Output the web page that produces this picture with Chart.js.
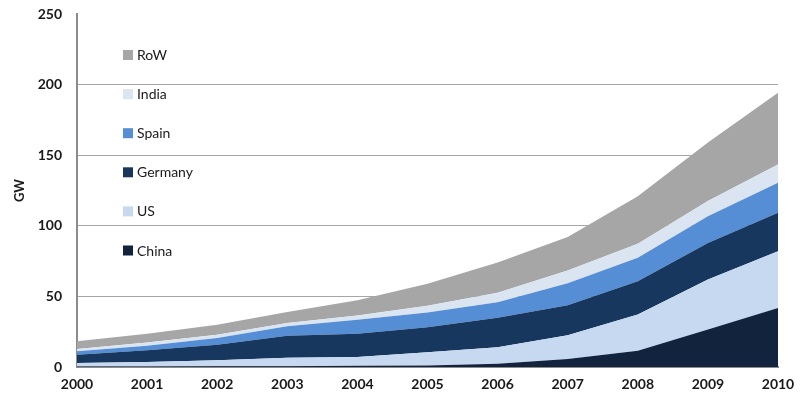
<!DOCTYPE html>
<html>
<head>
<meta charset="utf-8">
<script src="https://cdn.jsdelivr.net/npm/chart.js@4/dist/chart.umd.min.js"></script>
<style>
html,body{margin:0;padding:0;background:#fff;}
#wrap{width:801px;height:416px;position:relative;}
</style>
</head>
<body>
<div id="wrap"><canvas id="c" width="801" height="416"></canvas></div>
<script>
const years = ['2000','2001','2002','2003','2004','2005','2006','2007','2008','2009','2010'];
const china   = [0.3, 0.4, 0.5, 0.6, 0.8, 1.0, 2.3, 5.7, 11.5, 26.5, 41.8];
const us      = [2.5, 3.1, 4.2, 6.0, 6.3, 9.4, 11.7, 16.8, 25.6, 35.4, 40.2];
const germany = [5.9, 8.3, 11.1, 15.6, 16.5, 17.8, 20.8, 21.3, 23.6, 26.0, 27.2];
const spain   = [2.4, 3.3, 4.8, 6.6, 9.9, 10.4, 11.0, 15.5, 16.6, 18.9, 21.3];
const india   = [1.7, 2.3, 2.3, 2.4, 2.9, 4.8, 6.7, 9.1, 10.0, 10.7, 13.0];
const row     = [5.4, 6.2, 7.1, 7.8, 10.8, 15.6, 21.5, 23.6, 33.7, 41.5, 50.8];
const yTicks  = [0, 50, 100, 150, 200, 250];

const seriesNames  = ['China','US','Germany','Spain','India','RoW'];
const seriesData   = [china, us, germany, spain, india, row];
const seriesColors = ['#11233D','#C6D9F0','#17375E','#558ED5','#DBE5F1','#A6A6A6'];

const datasets = seriesNames.map((n,i)=>({
  label: n,
  data: seriesData[i],
  backgroundColor: seriesColors[i],
  borderColor: seriesColors[i],
  borderWidth: 0,
  pointRadius: 0,
  tension: 0,
  fill: i === 0 ? 'origin' : '-1'
}));

const legendPlugin = {
  id: 'insideLegend',
  afterDraw(chart){
    const ctx = chart.ctx;
    ctx.save();
    ctx.font = '14px Lato';
    ctx.textBaseline = 'middle';
    const ds = chart.data.datasets.slice().reverse();
    ds.forEach((d,i)=>{
      const cy = 55 + i*39.1;
      ctx.fillStyle = d.backgroundColor;
      ctx.fillRect(123, cy-5, 10, 10);
      ctx.fillStyle = '#1a1a1a';
      ctx.fillText(d.label, 137, cy+0.5);
    });
    ctx.restore();
  }
};

new Chart(document.getElementById('c'), {
  type: 'line',
  data: { labels: years, datasets },
  options: {
    responsive: false,
    animation: false,
    devicePixelRatio: 1,
    layout: { padding: { left: 0, right: 23, top: 14, bottom: 0 } },
    plugins: { legend: { display: false }, tooltip: { enabled: false } },
    scales: {
      x: {
        type: 'category',
        offset: false,
        grid: { display: false, drawTicks: false },
        border: { display: true, color: '#8C8C8C', width: 2 },
        ticks: { color: '#1a1a1a', font: { family: 'Lato', size: 14, weight: 'bold' }, padding: 9, maxRotation: 0, autoSkip: false },
        afterFit(s){ s.height = 49; s.paddingLeft = 0; s.paddingRight = 0; }
      },
      y: {
        stacked: true,
        min: 0, max: 250,
        afterBuildTicks(s){ s.ticks = yTicks.map(v=>({value:v})); },
        grid: {
          drawTicks: false,
          color: (c)=> (c.tick && (c.tick.value === 0 || c.tick.value === 250)) ? 'rgba(0,0,0,0)' : '#A6A6A6',
          lineWidth: 1
        },
        border: { display: true, color: '#8C8C8C', width: 2 },
        ticks: { color: '#1a1a1a', font: { family: 'Lato', size: 14, weight: 'bold' }, padding: 15 },
        title: { display: true, text: 'GW', color: '#1a1a1a', font: { family: 'Lato', size: 13, weight: 'bold' }, padding: { top: 12, bottom: 0 } },
        afterFit(s){ s.width = 77; s.paddingTop = 0; s.paddingBottom = 0; }
      }
    }
  },
  plugins: [legendPlugin]
});
</script>
</body>
</html>
